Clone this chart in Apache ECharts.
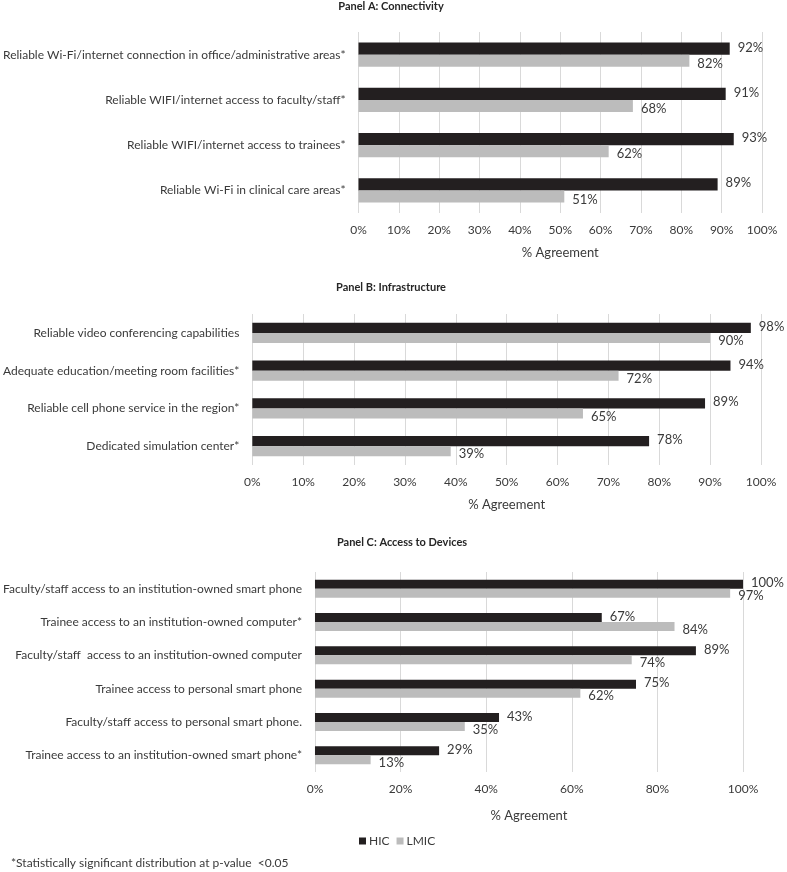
<!DOCTYPE html>
<html><head><meta charset="utf-8">
<script src="https://cdn.jsdelivr.net/npm/echarts@6/dist/echarts.min.js"></script>
<style>html,body{margin:0;padding:0;background:#fff}#c{width:787px;height:872px}</style>
</head><body><div id="c"></div>
<script>
const catsA = ['Reliable Wi-Fi/internet connection in office/administrative areas*','Reliable WIFI/internet access to faculty/staff*','Reliable WIFI/internet access to trainees*','Reliable Wi-Fi in clinical care areas*'];
const hicA = [92, 91, 93, 89];
const lmicA = [82, 68, 62, 51];
const catsB = ['Reliable video conferencing capabilities','Adequate education/meeting room facilities*','Reliable cell phone service in the region*','Dedicated simulation center*'];
const hicB = [98, 94, 89, 78];
const lmicB = [90, 72, 65, 39];
const catsC = ['Faculty/staff access to an institution-owned smart phone','Trainee access to an institution-owned computer*','Faculty/staff  access to an institution-owned computer','Trainee access to personal smart phone','Faculty/staff access to personal smart phone.','Trainee access to an institution-owned smart phone*'];
const hicC = [100, 67, 89, 75, 43, 29];
const lmicC = [97, 84, 74, 62, 35, 13];
const panelTitles = ['Panel A: Connectivity','Panel B: Infrastructure','Panel C: Access to Devices'];
const seriesNames = ['HIC','LMIC'];
const axisName = '% Agreement';
const footnote = '*Statistically significant distribution at p-value  <0.05';

const FONT = 'Lato';
const TXT = '#3a3a3a';
const DARK = '#231f20';
const LIGHT = '#bcbcbc';

const grids = [
  {left: 357, right: 25, top: 32, height: 181},
  {left: 251, right: 26, top: 314, height: 151},
  {left: 310, right: 44, top: 572, height: 200}
];
const intervals = [10, 10, 20];
const nameGaps = [33, 33, 37];
const cats = [catsA, catsB, catsC];
const hic = [hicA, hicB, hicC];
const lmic = [lmicA, lmicB, lmicC];

const xAxes = grids.map((g, i) => ({
  type: 'value', gridIndex: i, min: 0, max: 100, interval: intervals[i],
  axisLine: {show: false}, axisTick: {show: false},
  splitLine: {lineStyle: {color: '#d9d9d9', width: 1}},
  axisLabel: {formatter: '{value}%', color: TXT, fontFamily: FONT, fontSize: 12, margin: 11},
  name: axisName, nameLocation: 'middle', nameGap: nameGaps[i],
  nameTextStyle: {color: TXT, fontFamily: FONT, fontSize: 13}
}));
const yAxes = grids.map((g, i) => ({
  type: 'category', gridIndex: i, data: cats[i], inverse: true,
  axisLine: {show: false}, axisTick: {show: false},
  axisLabel: {color: TXT, fontFamily: FONT, fontSize: 12, margin: 13}
}));
const series = [];
grids.forEach((g, i) => {
  series.push({
    name: seriesNames[0], type: 'bar', xAxisIndex: i, yAxisIndex: i, data: hic[i],
    barGap: '0%', barCategoryGap: '46%',
    itemStyle: {color: DARK},
    label: {show: true, position: 'right', distance: 8, formatter: '{c}%', color: TXT, fontFamily: FONT, fontSize: 13, offset: [0, -1]}
  });
  series.push({
    name: seriesNames[1], type: 'bar', xAxisIndex: i, yAxisIndex: i, data: lmic[i],
    barGap: '0%', barCategoryGap: '46%',
    itemStyle: {color: LIGHT},
    label: {show: true, position: 'right', distance: 8, formatter: '{c}%', color: TXT, fontFamily: FONT, fontSize: 13, offset: [0, 3]}
  });
});

const titleTops = [1, 282, 537];
const titleCenters = [391, 391, 402];
const titles = panelTitles.map((t, i) => ({
  text: t, left: titleCenters[i], top: titleTops[i], textAlign: 'center', padding: 0,
  textStyle: {fontFamily: FONT, fontSize: 11, fontWeight: 'bold', color: '#262626'}
}));

const chart = echarts.init(document.getElementById('c'), null, {renderer: 'canvas'});
chart.setOption({
  animation: false,
  backgroundColor: '#fff',
  title: titles,
  grid: grids,
  xAxis: xAxes,
  yAxis: yAxes,
  series: series,
  legend: {
    data: seriesNames, left: 354, top: 830, itemWidth: 7, itemHeight: 7, itemGap: 7,
    icon: 'rect', textStyle: {color: TXT, fontFamily: FONT, fontSize: 12, padding: [0, 0, 0, -2]}
  },
  graphic: [{
    type: 'text', left: 11, top: 857,
    style: {text: footnote, fill: TXT, font: '12px ' + FONT}
  }]
});
</script></body></html>
